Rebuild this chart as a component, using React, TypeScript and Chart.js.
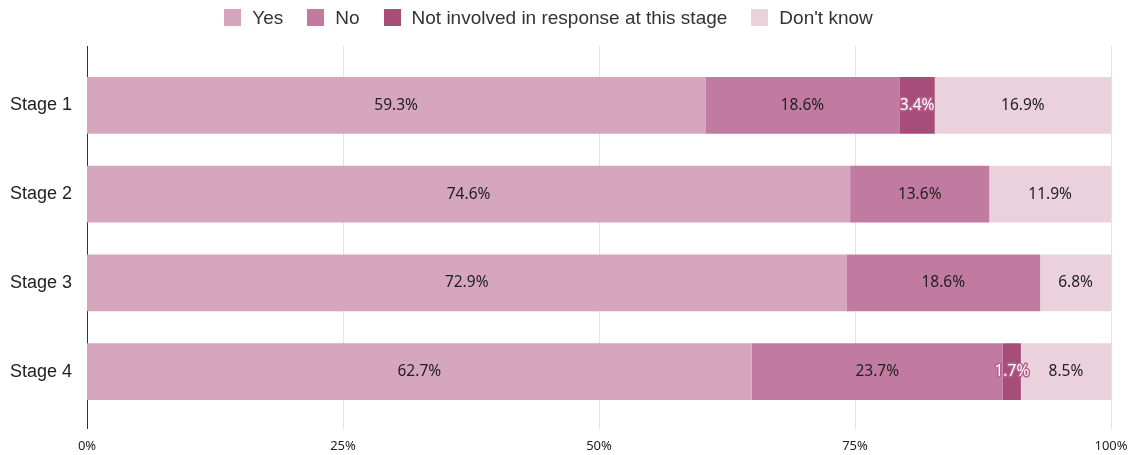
import React, { useEffect, useRef } from "react";
import { Chart, registerables } from "chart.js";

Chart.register(...registerables);

const categories = ["Stage 1", "Stage 2", "Stage 3", "Stage 4"];
const seriesNames = ["Yes", "No", "Not involved in response at this stage", "Don't know"];
const yesValues = [59.3, 74.6, 72.9, 62.7];
const noValues = [18.6, 13.6, 18.6, 23.7];
const notInvolvedValues = [3.4, 0, 0, 1.7];
const dontKnowValues = [16.9, 11.9, 6.8, 8.5];
const xTickValues = [0, 25, 50, 75, 100];
const colors = ["#d5a6bd", "#c27ba0", "#a64d79", "#ead1dc"];

const allSeries = [yesValues, noValues, notInvolvedValues, dontKnowValues];
const rowTotals = categories.map((_, i) => allSeries.reduce((s, arr) => s + arr[i], 0));

const gridPlugin = {
  id: "extendedGrid",
  beforeDatasetsDraw(chart: any) {
    const { ctx, chartArea } = chart;
    const xScale = chart.scales.x;
    ctx.save();
    ctx.lineWidth = 1;
    xScale.ticks.forEach((t: any) => {
      if (t.value === 0) return;
      const x = Math.round(xScale.getPixelForValue(t.value)) + 0.5;
      ctx.strokeStyle = "#e3e3e3";
      ctx.beginPath();
      ctx.moveTo(x, chartArea.top - 15);
      ctx.lineTo(x, chartArea.bottom + 13);
      ctx.stroke();
    });
    const x0 = Math.round(xScale.getPixelForValue(0)) + 0.5;
    ctx.strokeStyle = "#333333";
    ctx.beginPath();
    ctx.moveTo(x0, chartArea.top - 15);
    ctx.lineTo(x0, chartArea.bottom + 13);
    ctx.stroke();
    ctx.restore();
  },
};

const labelPlugin = {
  id: "barLabels",
  afterDatasetsDraw(chart: any) {
    const { ctx } = chart;
    ctx.save();
    ctx.font = '15.5px "Noto Sans", sans-serif';
    ctx.textAlign = "center";
    ctx.textBaseline = "middle";
    chart.data.datasets.forEach((ds: any, di: number) => {
      const meta = chart.getDatasetMeta(di);
      meta.data.forEach((bar: any, i: number) => {
        const raw = ds.rawValues[i];
        if (!raw) return;
        const text = raw.toFixed(1) + "%";
        const x = (bar.x + bar.base) / 2;
        const y = bar.y;
        if (di === 2) {
          ctx.lineJoin = "round";
          ctx.lineWidth = 3;
          ctx.strokeStyle = "#b8628f";
          ctx.strokeText(text, x, y);
          ctx.fillStyle = "#ffffff";
        } else {
          ctx.fillStyle = "#222222";
        }
        ctx.fillText(text, x, y);
      });
    });
    ctx.restore();
  },
};

const legendPlugin = {
  id: "topLegend",
  afterDraw(chart: any) {
    const { ctx } = chart;
    ctx.save();
    ctx.font = '19px "Liberation Sans", Arial, sans-serif';
    ctx.textBaseline = "middle";
    ctx.textAlign = "left";
    const box = 17;
    const gap = 11;
    const spacing = 24;
    const items = chart.data.datasets.map((ds: any) => ({
      text: ds.label,
      color: ds.backgroundColor,
      w: ctx.measureText(ds.label).width,
    }));
    const total =
      items.reduce((s: number, it: any) => s + box + gap + it.w, 0) + spacing * (items.length - 1);
    let x = 548.5 - total / 2;
    const y = 17.5;
    items.forEach((it: any) => {
      ctx.fillStyle = it.color;
      ctx.fillRect(Math.round(x), Math.round(y - box / 2), box, box);
      x += box + gap;
      ctx.fillStyle = "#333333";
      ctx.fillText(it.text, x, y + 1);
      x += it.w + spacing;
    });
    ctx.restore();
  },
};

export default function App() {
  const canvasRef = useRef<HTMLCanvasElement | null>(null);

  useEffect(() => {
    document.body.style.margin = "0";
    const canvas = canvasRef.current;
    if (!canvas) return;
    const chart = new Chart(canvas, {
      type: "bar",
      data: {
        labels: categories,
        datasets: allSeries.map((arr, si) => ({
          label: seriesNames[si],
          data: arr.map((v, i) => (v / rowTotals[i]) * 100),
          rawValues: arr,
          backgroundColor: colors[si],
          borderWidth: 0,
          barPercentage: 0.64,
          categoryPercentage: 1,
        })) as any,
      },
      options: {
        indexAxis: "y",
        responsive: false,
        animation: false,
        layout: { padding: { left: 10, right: 23, top: 61, bottom: 1 } },
        plugins: {
          legend: { display: false },
          tooltip: { enabled: false },
        },
        scales: {
          x: {
            stacked: true,
            min: 0,
            max: 100,
            afterBuildTicks: (scale: any) => {
              scale.ticks = xTickValues.map((v) => ({ value: v }));
            },
            afterFit: (scale: any) => {
              scale.height = 38;
              scale.paddingLeft = 0;
              scale.paddingRight = 0;
            },
            grid: { display: false, drawTicks: false },
            border: { display: false },
            ticks: {
              padding: 22,
              color: "#222222",
              font: { family: '"Noto Sans", sans-serif', size: 13 },
              callback: (v: any) => v + "%",
              maxRotation: 0,
            },
          },
          y: {
            stacked: true,
            afterFit: (scale: any) => {
              scale.width = 77;
            },
            grid: { display: false, drawTicks: false },
            border: { display: false },
            ticks: {
              padding: 15,
              color: "#222222",
              font: { family: '"Liberation Sans", Arial, sans-serif', size: 18 },
            },
          },
        },
      },
      plugins: [gridPlugin, labelPlugin, legendPlugin],
    });
    return () => chart.destroy();
  }, []);

  return (
    <div style={{ width: 1134, height: 455 }}>
      <canvas ref={canvasRef} width={1134} height={455} style={{ display: "block" }} />
    </div>
  );
}
